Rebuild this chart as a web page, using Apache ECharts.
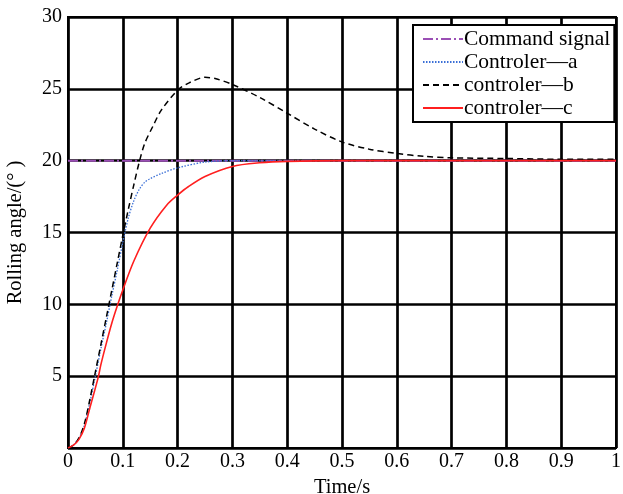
<!DOCTYPE html>
<html>
<head>
<meta charset="utf-8">
<script src="https://cdn.jsdelivr.net/npm/echarts@6/dist/echarts.min.js"></script>
<style>
  html, body { margin: 0; padding: 0; background: #fff; }
  #chart { width: 623px; height: 494px; }
</style>
</head>
<body>
<div id="chart"></div>
<script>
// 指令信号
const cmdT = [0, 1]
const cmdV = [20, 20]

// controler a
const aT = [0, 0.01, 0.02, 0.03, 0.04, 0.05, 0.06, 0.07, 0.08, 0.09, 0.1, 0.11, 0.12, 0.13, 0.14, 0.15, 0.17, 0.2, 0.25, 0.3, 0.4, 1]
const aV = [0, 0.2, 0.7, 1.6, 3.2, 5.0, 6.9, 8.7, 10.6, 12.4, 14.3, 16.0, 17.2, 18.0, 18.5, 18.75, 19.1, 19.5, 19.9, 20, 20, 20]

// controler b
const bT = [0, 0.01, 0.02, 0.03, 0.04, 0.05, 0.06, 0.07, 0.08, 0.09, 0.1, 0.11, 0.12, 0.13, 0.14, 0.155, 0.17, 0.2, 0.22, 0.25, 0.27, 0.3, 0.35, 0.4, 0.45, 0.5, 0.55, 0.6, 0.65, 0.7, 0.8, 0.9, 1]
const bV = [0, 0.2, 0.7, 1.7, 3.4, 5.3, 7.2, 9.1, 11.0, 12.9, 14.8, 16.6, 18.3, 19.9, 21.2, 22.4, 23.5, 24.9, 25.4, 25.8, 25.7, 25.3, 24.4, 23.3, 22.2, 21.3, 20.8, 20.5, 20.3, 20.2, 20.15, 20.1, 20.1]

// controler c
const cT = [0, 0.01, 0.02, 0.03, 0.04, 0.055, 0.06, 0.07, 0.08, 0.09, 0.1, 0.12, 0.15, 0.18, 0.2, 0.22, 0.25, 0.3, 0.35, 0.4, 0.5, 1]
const cV = [0, 0.2, 0.6, 1.4, 2.8, 4.9, 5.8, 7.3, 8.7, 9.9, 11.0, 13.0, 15.3, 16.9, 17.6, 18.2, 18.9, 19.6, 19.85, 19.95, 20, 20]

const names = ['Command signal', 'Controler\u2014a', 'controler\u2014b', 'controler\u2014c']

const pairs = (t, v) => t.map((x, i) => [x, v[i]])
const font = '"Liberation Serif", "Times New Roman", serif'

const chart = echarts.init(document.getElementById('chart'))
chart.setOption({
  animation: false,
  grid: {
    left: 68, right: 7, top: 17, bottom: 46,
    outerBoundsMode: 'none', containLabel: false,
    show: true, borderColor: '#000', borderWidth: 2
  },
  legend: {
    orient: 'vertical',
    left: 413, top: 25,
    width: 190,
    backgroundColor: '#fff',
    borderColor: '#000', borderWidth: 2, borderRadius: 0,
    padding: [3, 4, 3, 9],
    itemWidth: 40, itemHeight: 14, itemGap: 1,
    itemStyle: { opacity: 0 },
    textStyle: { fontFamily: font, fontSize: 21.5, color: '#000', padding: [0, 0, 0, -4] },
    data: names
  },
  xAxis: {
    type: 'value', min: 0, max: 1, interval: 0.1,
    name: 'Time/s', nameLocation: 'middle', nameGap: 21,
    nameTextStyle: { fontFamily: font, fontSize: 20.5, color: '#000' },
    axisLine: { lineStyle: { color: '#000', width: 2 } },
    axisTick: { show: false },
    axisLabel: { fontFamily: font, fontSize: 20, color: '#000', margin: 4, formatter: v => String(+v.toFixed(1)) },
    splitLine: { show: true, lineStyle: { color: '#000', width: 2.7 } }
  },
  yAxis: {
    type: 'value', min: 0, max: 30, interval: 5,
    name: 'Rolling angle/(\u00b0 )', nameLocation: 'middle', nameGap: 42,
    nameTextStyle: { fontFamily: font, fontSize: 20.5, color: '#000' },
    axisLine: { lineStyle: { color: '#000', width: 2 } },
    axisTick: { show: false },
    axisLabel: { fontFamily: font, fontSize: 20, color: '#000', margin: 6, formatter: v => v === 0 ? '' : String(v) },
    splitLine: { show: true, lineStyle: { color: '#000', width: 2.7 } }
  },
  series: [
    {
      name: names[0], type: 'line', data: pairs(cmdT, cmdV), symbol: 'none',
      lineStyle: { color: '#9b4fb5', width: 2, type: [10, 3, 2, 3] }, itemStyle: { color: '#9b4fb5' }, z: 3
    },
    {
      name: names[1], type: 'line', data: pairs(aT, aV), symbol: 'none', smooth: 0.3,
      lineStyle: { color: '#3a6fd6', width: 1.3, type: [1.5, 1.5] }, itemStyle: { color: '#3a6fd6' }, z: 4
    },
    {
      name: names[2], type: 'line', data: pairs(bT, bV), symbol: 'none', smooth: 0.3,
      lineStyle: { color: '#000', width: 1.5, type: [6, 4] }, itemStyle: { color: '#000' }, z: 4
    },
    {
      name: names[3], type: 'line', data: pairs(cT, cV), symbol: 'none', smooth: 0.3,
      lineStyle: { color: '#ff1f1f', width: 1.6 }, itemStyle: { color: '#ff1f1f' }, z: 5
    }
  ]
})
</script>
</body>
</html>
